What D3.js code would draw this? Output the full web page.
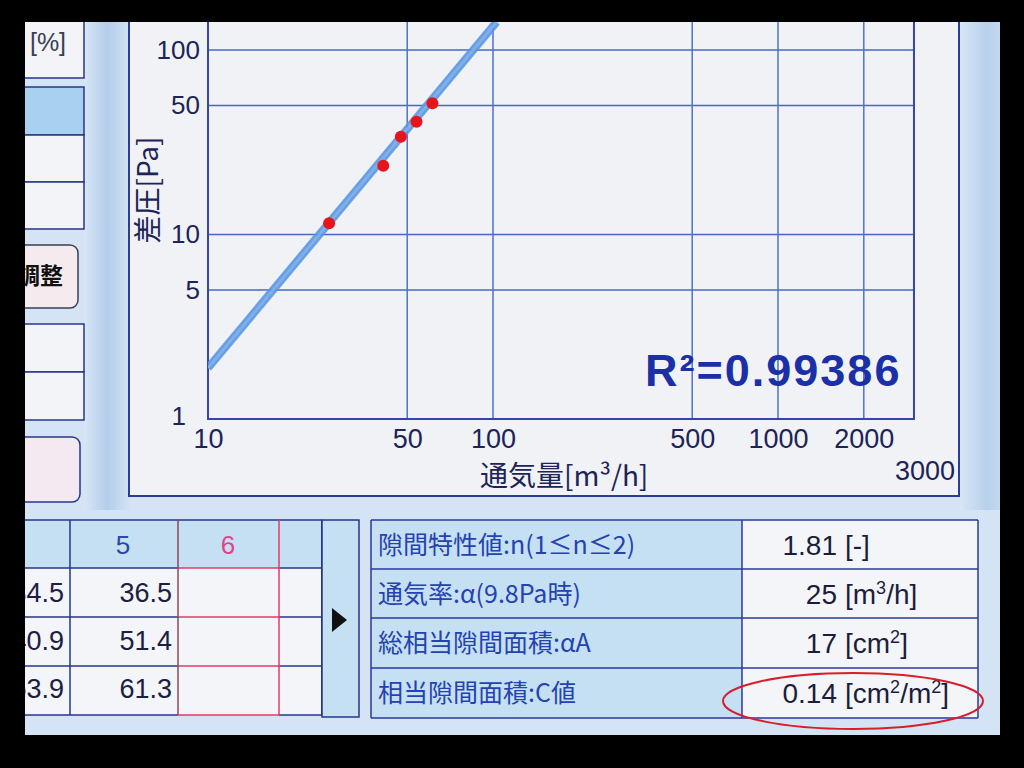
<!DOCTYPE html>
<html><head><meta charset="utf-8">
<script src="https://cdn.jsdelivr.net/npm/d3@7"></script>
<style>body{margin:0;background:#000;} svg{display:block}</style>
</head><body>
<svg id="c" width="1024" height="768"></svg>
<script>
// ---------- data ----------
const flowRate = [26.6, 41.2, 47.5, 53.9, 61.3];      // 通気量 m3/h
const pressureDiff = [11.5, 23.6, 33.9, 40.9, 51.4];  // 差圧 Pa
const fitFlow = [10, 103];
const fitPressure = [1.89, 142];
const xTicks = [10, 50, 100, 500, 1000, 2000];
const xGrid = [50, 100, 500, 1000, 2000];
const xMaxLabel = 3000;
const yTicks = [1, 5, 10, 50, 100];
const yGrid = [5, 10, 50, 100];
const r2Text = "R²=0.99386";
const headerCols = ["5", "6"];
const col4Values = ["34.5", "40.9", "53.9"];
const col5Values = ["36.5", "51.4", "61.3"];
const resultLabels = ["隙間特性値:n(1≤n≤2)", "通気率:α(9.8Pa時)", "総相当隙間面積:αA", "相当隙間面積:C値"];
const resultNumbers = ["1.81", "25", "17", "0.14"];
const resultUnits = ["[-]", "[m^3/h]", "[cm^2]", "[cm^2/m^2]"];

// ---------- setup ----------
const svg = d3.select("#c");
const CJK = "'Noto Sans CJK JP','Liberation Sans',sans-serif";
const LAT = "'Liberation Sans','Noto Sans CJK JP',sans-serif";
const navy = "#27358a";

svg.append("rect").attr("width",1024).attr("height",768).attr("fill","#d4e4f4");

const defs = svg.append("defs");
const g1 = defs.append("linearGradient").attr("id","strip").attr("x1","0").attr("x2","1");
g1.append("stop").attr("offset","0").attr("stop-color","#d8e6f5");
g1.append("stop").attr("offset","0.5").attr("stop-color","#b3cdeb");
g1.append("stop").attr("offset","1").attr("stop-color","#d3e3f4");
svg.append("rect").attr("x",84).attr("y",0).attr("width",46).attr("height",510).attr("fill","url(#strip)");
const g2 = defs.append("linearGradient").attr("id","strip2").attr("x1","0").attr("x2","1");
g2.append("stop").attr("offset","0").attr("stop-color","#d8e6f5");
g2.append("stop").attr("offset","0.6").attr("stop-color","#b7d0ec");
g2.append("stop").attr("offset","1").attr("stop-color","#c9dcf0");
svg.append("rect").attr("x",960).attr("y",0).attr("width",45).attr("height",510).attr("fill","url(#strip2)");

// ---------- left panel ----------
const lp = svg.append("g");
const boxes = [[10,78],[87,135],[135,182],[182,229],[324,372],[372,420]];
boxes.forEach((b,i)=>{
  lp.append("rect").attr("x",10).attr("y",b[0]).attr("width",74).attr("height",b[1]-b[0])
    .attr("fill", i===1 ? "#a7d1ef" : "#f2f4f8").attr("stroke",navy).attr("stroke-width",1.5);
});
lp.append("text").attr("x",48).attr("y",51).attr("text-anchor","middle")
  .attr("font-family",LAT).attr("font-size",25).attr("fill","#3a4052").text("[%]");
lp.append("rect").attr("x",4).attr("y",245).attr("width",74).attr("height",63).attr("rx",8)
  .attr("fill","#f5eaee").attr("stroke","#3a3f5a").attr("stroke-width",1.5);
lp.append("text").attr("x",63).attr("y",284).attr("text-anchor","end")
  .attr("font-family",CJK).attr("font-weight","bold").attr("font-size",23).attr("fill","#111").text("調整");
lp.append("rect").attr("x",4).attr("y",437).attr("width",76).attr("height",65).attr("rx",8)
  .attr("fill","#f4e9f0").attr("stroke",navy).attr("stroke-width",1.5);

// ---------- chart panel ----------
svg.append("rect").attr("x",129).attr("y",4).attr("width",830).attr("height",492)
  .attr("fill","#f1f2f6").attr("stroke","#2c3c9c").attr("stroke-width",2);

const x = d3.scaleLog().domain([10, 3000]).range([208, 208 + 285*Math.log10(300)]);
const y = d3.scaleLog().domain([1, 100]).range([419, 50]);
const plotTop = 0;

defs.append("clipPath").attr("id","plotclip").append("rect")
  .attr("x",x(10)).attr("y",plotTop).attr("width",x(3000)-x(10)).attr("height",y(1)-plotTop);

const grid = svg.append("g");
grid.selectAll(".hg").data(yGrid).join("line")
  .attr("x1",x(10)).attr("x2",x(3000)).attr("y1",d=>y(d)).attr("y2",d=>y(d))
  .attr("stroke","#4568c4").attr("stroke-width",1.5);
grid.selectAll(".vg").data(xGrid).join("line")
  .attr("x1",d=>x(d)).attr("x2",d=>x(d)).attr("y1",plotTop).attr("y2",y(1))
  .attr("stroke","#4d72c8").attr("stroke-width",1.5);
grid.append("path").attr("d",`M${x(10)},${plotTop}V${y(1)}H${x(3000)}V${plotTop}`)
  .attr("fill","none").attr("stroke","#3646a6").attr("stroke-width",2);

// fit line
const fitData = fitFlow.map((q,i)=>[q, fitPressure[i]]);
const lineGen = d3.line().x(d=>x(d[0])).y(d=>y(d[1]));
svg.append("path").datum(fitData).attr("clip-path","url(#plotclip)").attr("d", lineGen)
  .attr("fill","none").attr("stroke","#5a97e3").attr("stroke-width",8).attr("stroke-opacity",0.9);
svg.append("path").datum(fitData).attr("clip-path","url(#plotclip)").attr("d", lineGen)
  .attr("fill","none").attr("stroke","#8ab8ee").attr("stroke-width",2.5).attr("stroke-opacity",0.7);

// points
svg.append("g").selectAll("circle").data(flowRate.map((q,i)=>[q, pressureDiff[i]])).join("circle")
  .attr("cx",d=>x(d[0])).attr("cy",d=>y(d[1])).attr("r",6).attr("fill","#e8141c");

// axes
const yAxis = d3.axisLeft(y).tickValues(yTicks).tickFormat(d3.format("d")).tickSize(0).tickPadding(8);
const ya = svg.append("g").attr("transform",`translate(${x(10)},0)`).call(yAxis);
ya.select(".domain").remove();
ya.selectAll("text").attr("font-family",LAT).attr("font-size",26).attr("fill","#1c2458");
ya.selectAll(".tick").filter(d=>d===1).select("text").attr("dx",-14).attr("dy","0.2em");

const xAxis = d3.axisBottom(x).tickValues(xTicks).tickFormat(d3.format("d")).tickSize(0).tickPadding(10);
const xa = svg.append("g").attr("transform",`translate(0,${y(1)})`).call(xAxis);
xa.select(".domain").remove();
xa.selectAll("text").attr("font-family",LAT).attr("font-size",27).attr("fill","#1c2458");

svg.append("text").attr("x",x(xMaxLabel)+41).attr("y",480).attr("text-anchor","end")
  .attr("font-family",LAT).attr("font-size",27).attr("fill","#1c2458").text(xMaxLabel);

// axis titles
svg.append("text").attr("x",480).attr("y",486)
  .attr("font-family",CJK).attr("font-size",28).attr("fill","#1c2458").text("通気量[m³/h]");

svg.append("text").attr("transform","translate(158,190) rotate(-90)").attr("text-anchor","middle")
  .attr("font-family",CJK).attr("font-size",28).attr("fill","#1c2458").text("差圧[Pa]");

// R2
svg.append("text").attr("x",645).attr("y",386)
  .attr("font-family",LAT).attr("font-weight","bold").attr("font-size",45).attr("letter-spacing",2)
  .attr("fill","#1b2fa8").text(r2Text);

// ---------- bottom left table ----------
const bt = svg.append("g");
const rowsY = [520, 568, 617, 666, 715];
bt.append("rect").attr("x",10).attr("y",rowsY[0]).attr("width",312).attr("height",rowsY[1]-rowsY[0]).attr("fill","#c5dff3");
bt.append("rect").attr("x",10).attr("y",rowsY[1]).attr("width",312).attr("height",rowsY[4]-rowsY[1]).attr("fill","#f3f5f9");
[0,1,2,3,4].forEach(i=>{
  bt.append("line").attr("x1",10).attr("x2",178).attr("y1",rowsY[i]).attr("y2",rowsY[i]).attr("stroke",navy).attr("stroke-width",1.5);
  bt.append("line").attr("x1",279).attr("x2",322).attr("y1",rowsY[i]).attr("y2",rowsY[i]).attr("stroke",navy).attr("stroke-width",1.5);
  bt.append("line").attr("x1",178).attr("x2",279).attr("y1",rowsY[i]).attr("y2",rowsY[i])
    .attr("stroke", i===0 ? navy : "#e23a6a").attr("stroke-width",1.5);
});
bt.append("line").attr("x1",70).attr("x2",70).attr("y1",rowsY[0]).attr("y2",rowsY[4]).attr("stroke",navy).attr("stroke-width",1.5);
bt.append("line").attr("x1",178).attr("x2",178).attr("y1",rowsY[0]).attr("y2",rowsY[4]).attr("stroke","#8a4a5a").attr("stroke-width",1.5);
bt.append("line").attr("x1",279).attr("x2",279).attr("y1",rowsY[0]).attr("y2",rowsY[4]).attr("stroke","#e23a6a").attr("stroke-width",1.5);
bt.append("line").attr("x1",322).attr("x2",322).attr("y1",rowsY[0]).attr("y2",rowsY[4]).attr("stroke",navy).attr("stroke-width",2);
bt.append("rect").attr("x",322).attr("y",520).attr("width",37).attr("height",197).attr("fill","#c5dff3").attr("stroke",navy).attr("stroke-width",1.5);
bt.append("path").attr("d","M332,608L347,620L332,632Z").attr("fill","#111");
bt.append("text").attr("x",123).attr("y",554).attr("text-anchor","middle").attr("font-family",LAT).attr("font-size",26).attr("fill","#2a48a8").text(headerCols[0]);
bt.append("text").attr("x",228).attr("y",554).attr("text-anchor","middle").attr("font-family",LAT).attr("font-size",26).attr("fill","#e6408c").text(headerCols[1]);
const valBase = [602, 650, 698];
col4Values.forEach((v,i)=>bt.append("text").attr("x",64).attr("y",valBase[i]).attr("text-anchor","end")
  .attr("font-family",LAT).attr("font-size",27).attr("fill","#1c2040").text(v));
col5Values.forEach((v,i)=>bt.append("text").attr("x",172).attr("y",valBase[i]).attr("text-anchor","end")
  .attr("font-family",LAT).attr("font-size",27).attr("fill","#1c2040").text(v));

// ---------- bottom right table ----------
const rt = svg.append("g");
const rRows = [520, 569, 618, 668, 718];
rt.append("rect").attr("x",371).attr("y",520).attr("width",371).attr("height",198).attr("fill","#c5dff3");
rt.append("rect").attr("x",742).attr("y",520).attr("width",236).attr("height",198).attr("fill","#f4f5f9");
rRows.forEach(r=>rt.append("line").attr("x1",371).attr("x2",978).attr("y1",r).attr("y2",r).attr("stroke","#2a3a9a").attr("stroke-width",1.5));
[371,742,978].forEach(c=>rt.append("line").attr("x1",c).attr("x2",c).attr("y1",520).attr("y2",718).attr("stroke","#2a3a9a").attr("stroke-width",1.5));
resultLabels.forEach((t,i)=>rt.append("text").attr("x",378).attr("y",(rRows[i]+rRows[i+1])/2+9)
  .attr("font-family",CJK).attr("font-size",25).attr("fill","#2443b0").text(t));
resultNumbers.forEach((t,i)=>rt.append("text").attr("x",837).attr("y",(rRows[i]+rRows[i+1])/2+10)
  .attr("text-anchor","end").attr("font-family",LAT).attr("font-size",28).attr("fill","#1c1d3a").text(t));
resultUnits.forEach((u,i)=>{
  const t = rt.append("text").attr("x",845).attr("y",(rRows[i]+rRows[i+1])/2+10)
    .attr("font-family",LAT).attr("font-size",28).attr("fill","#1c1d3a");
  u.split(/(\^\d)/).forEach(part=>{
    if (part.startsWith("^")) t.append("tspan").attr("font-size",18).attr("baseline-shift","super").text(part.slice(1));
    else if (part) t.append("tspan").text(part);
  });
});
rt.append("ellipse").attr("cx",853).attr("cy",701).attr("rx",130).attr("ry",28)
  .attr("fill","none").attr("stroke","#d81e2a").attr("stroke-width",2);

// ---------- photo black frame ----------
svg.append("rect").attr("x",0).attr("y",0).attr("width",1024).attr("height",22).attr("fill","#000");
svg.append("rect").attr("x",0).attr("y",0).attr("width",25).attr("height",768).attr("fill","#000");
svg.append("rect").attr("x",1000).attr("y",0).attr("width",24).attr("height",768).attr("fill","#000");
svg.append("rect").attr("x",0).attr("y",735).attr("width",1024).attr("height",33).attr("fill","#000");
</script>
</body></html>
